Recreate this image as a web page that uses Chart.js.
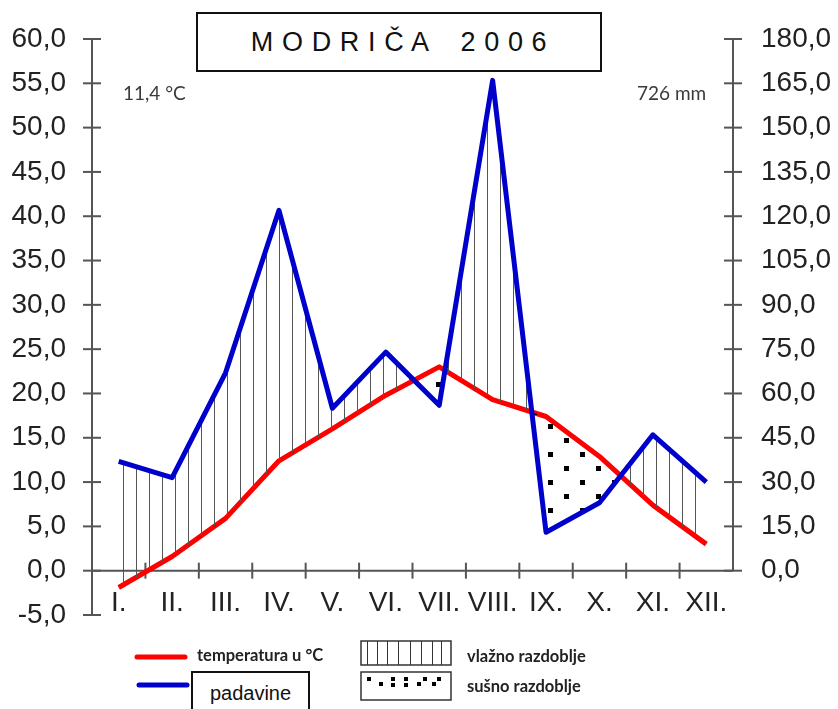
<!DOCTYPE html>
<html><head><meta charset="utf-8">
<script src="https://cdn.jsdelivr.net/npm/chart.js@4.4.1/dist/chart.umd.min.js"></script>
<style>
html,body{margin:0;padding:0;background:#fff;}
#wrap{position:relative;width:838px;height:709px;overflow:hidden;background:#fff;}
#c{position:absolute;left:0;top:0;}
#title{position:absolute;left:196px;top:12px;width:406px;height:60px;box-sizing:border-box;border:2px solid #111;background:#fff;font:27px "Liberation Sans",Arial,sans-serif;letter-spacing:0.6px;display:flex;align-items:center;justify-content:center;white-space:pre;color:#111;}
#pad{position:absolute;left:191px;top:671px;width:119px;height:60px;box-sizing:border-box;border:2px solid #111;background:#fff;font:20px "Liberation Sans",Arial,sans-serif;text-align:center;padding-top:9px;color:#111;}
</style></head><body>
<div id="wrap">
<canvas id="c" width="838" height="709"></canvas>
<div id="title">M O D R I Č A    2 0 0 6</div>
<div id="pad">padavine</div>
</div>
<script>
const months = ['I.','II.','III.','IV.','V.','VI.','VII.','VIII.','IX.','X.','XI.','XII.'];
const temperature = [-1.9, 1.6, 5.9, 12.4, 16.0, 19.8, 23.0, 19.3, 17.4, 12.9, 7.4, 3.0];
const precipitation = [37, 31.5, 67, 122, 55, 74, 56, 166, 13, 23, 46, 30];
const tempAxis = [-5, 60, 5];
const precipAxis = [-15, 180, 15];
const meanTempLabel = '11,4 °C';
const totalPrecipLabel = '726 mm';
const legendLabels = ['temperatura u °C', 'vlažno razdoblje', 'sušno razdoblje'];

const AXIS = '#555';
const fmt = v => v.toFixed(1).replace('.', ',');

function makeHatch(){
  const c = document.createElement('canvas'); c.width = 13; c.height = 40;
  const g = c.getContext('2d');
  g.fillStyle = '#555'; g.fillRect(6, 0, 1, 40);
  return g.createPattern(c, 'repeat');
}
function makeDots(){
  const c = document.createElement('canvas'); c.width = 32; c.height = 28;
  const g = c.getContext('2d');
  g.fillStyle = '#000'; g.fillRect(4, 4, 5, 5); g.fillRect(20, 18, 5, 5);
  return g.createPattern(c, 'repeat');
}
const hatch = makeHatch();
const dots = makeDots();

function seg(ctx, x1, y1, x2, y2){ ctx.beginPath(); ctx.moveTo(x1, y1); ctx.lineTo(x2, y2); ctx.stroke(); }
function fitY(width){ return s => { s.width = width; s.paddingTop = 0; s.paddingBottom = 0; }; }

const decor = {
  id: 'decor',
  beforeDatasetsDraw(chart){
    const {ctx, chartArea: a, scales: {x, y, y2}} = chart;
    ctx.save();
    ctx.strokeStyle = AXIS; ctx.lineWidth = 2;
    const xl = a.left, xr = a.right;
    seg(ctx, xl, y.getPixelForValue(tempAxis[1]), xl, y.getPixelForValue(tempAxis[0]));
    y.ticks.forEach(t => { const p = y.getPixelForValue(t.value); seg(ctx, xl - 9, p, xl + 9, p); });
    seg(ctx, xr, y2.getPixelForValue(precipAxis[1]), xr, y2.getPixelForValue(0));
    y2.ticks.filter(t => t.value >= 0).forEach(t => { const p = y2.getPixelForValue(t.value); seg(ctx, xr - 9, p, xr + 9, p); });
    const y0 = y.getPixelForValue(0);
    seg(ctx, xl, y0, xr, y0);
    for (let i = 1; i < months.length; i++){
      const p = (x.getPixelForValue(i - 1) + x.getPixelForValue(i)) / 2;
      seg(ctx, p, y0 - 8, p, y0 + 8);
    }
    ctx.restore();
  },
  afterDraw(chart){
    const ctx = chart.ctx;
    ctx.save();
    ctx.fillStyle = '#3a3a3a';
    ctx.font = '19px Lato, "Open Sans", sans-serif';
    ctx.textBaseline = 'alphabetic';
    ctx.textAlign = 'left';
    ctx.fillText(meanTempLabel, 123, 100);
    ctx.fillText(totalPrecipLabel, 637, 100);
    ctx.lineCap = 'round'; ctx.lineWidth = 5;
    ctx.strokeStyle = '#ff0000'; seg(ctx, 137, 657, 185, 657);
    ctx.strokeStyle = '#0000cc'; seg(ctx, 139, 685, 187, 685);
    ctx.lineCap = 'butt';
    ctx.fillStyle = '#222';
    ctx.font = 'bold 16.5px Lato, "Open Sans", sans-serif';
    ctx.fillText(legendLabels[0], 197, 661);
    ctx.fillText(legendLabels[1], 467, 662);
    ctx.fillText(legendLabels[2], 467, 692);
    ctx.strokeStyle = '#333'; ctx.lineWidth = 1.5;
    ctx.strokeRect(361, 641, 90, 24);
    ctx.lineWidth = 1;
    [367, 377, 387, 398, 410, 421, 432, 441].forEach(px => seg(ctx, px + 0.5, 641, px + 0.5, 665));
    ctx.lineWidth = 1.5;
    ctx.strokeRect(361, 672, 90, 28);
    ctx.fillStyle = '#000';
    [[367,677],[379,682],[391,683],[391,677],[404,677],[404,683],[417,682],[423,677],[432,682],[437,677]].forEach(([dx,dy]) => ctx.fillRect(dx, dy, 4, 4));
    ctx.restore();
  }
};

new Chart(document.getElementById('c'), {
  type: 'line',
  data: {
    labels: months,
    datasets: [
      { label: 'temperatura', data: temperature, yAxisID: 'y', borderColor: '#ff0000', borderWidth: 5,
        borderJoinStyle: 'round', pointRadius: 0, tension: 0, fill: false, order: 1 },
      { label: 'padavine', data: precipitation, yAxisID: 'y2', borderColor: '#0000cc', borderWidth: 5,
        borderJoinStyle: 'round', pointRadius: 0, tension: 0, order: 0, backgroundColor: hatch,
        fill: { target: 0, above: hatch, below: dots } }
    ]
  },
  options: {
    responsive: false, animation: false, events: [],
    layout: { padding: { top: 39, bottom: 94, left: 0, right: 0 } },
    plugins: { legend: { display: false }, tooltip: { enabled: false }, title: { display: false } },
    scales: {
      x: { type: 'category', position: { y: 0 }, offset: true,
           grid: { display: false, drawTicks: false }, border: { display: false },
           ticks: { color: '#222', font: { family: '"Liberation Sans", Arial, sans-serif', size: 28 },
                    padding: 16, maxRotation: 0, autoSkip: false } },
      y: { position: 'left', min: tempAxis[0], max: tempAxis[1],
           afterFit: fitY(92),
           grid: { display: false, drawTicks: false }, border: { display: false },
           ticks: { stepSize: tempAxis[2], callback: v => fmt(v), color: '#222',
                    font: { family: '"Liberation Sans", Arial, sans-serif', size: 28 }, padding: 26 } },
      y2: { position: 'right', min: precipAxis[0], max: precipAxis[1],
            afterFit: fitY(105),
            grid: { display: false, drawTicks: false }, border: { display: false },
            ticks: { stepSize: precipAxis[2], callback: v => v < 0 ? '' : fmt(v), color: '#222',
                     font: { family: '"Liberation Sans", Arial, sans-serif', size: 28 }, padding: 28 } }
    }
  },
  plugins: [decor]
});
</script>
</body></html>
